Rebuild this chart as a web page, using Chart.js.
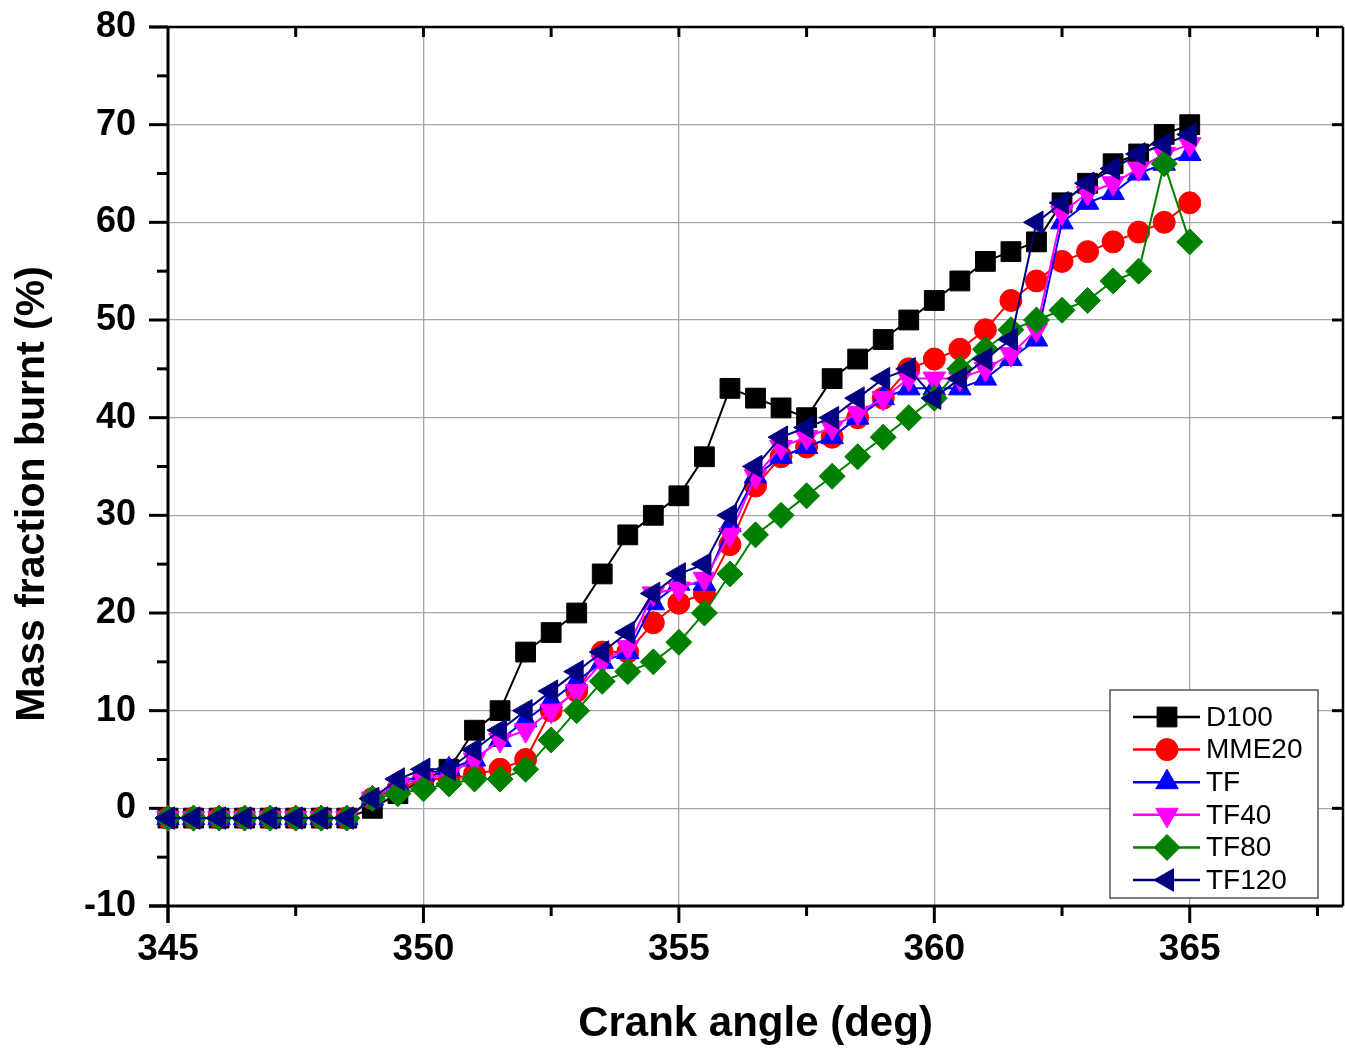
<!DOCTYPE html>
<html>
<head>
<meta charset="utf-8">
<title>Mass fraction burnt vs crank angle</title>
<script src="https://cdn.jsdelivr.net/npm/chart.js@4/dist/chart.umd.min.js"></script>
<style>
  html, body { margin: 0; padding: 0; background: #fff; }
  #wrap { width: 1345px; height: 1051px; }
</style>
</head>
<body>
<div id="wrap"><canvas id="mfb" width="1345" height="1051"></canvas></div>
<script>
// crank angle, deg (every 0.5 deg)
const crankAngle = [345, 345.5, 346, 346.5, 347, 347.5, 348, 348.5, 349, 349.5,
  350, 350.5, 351, 351.5, 352, 352.5, 353, 353.5, 354, 354.5,
  355, 355.5, 356, 356.5, 357, 357.5, 358, 358.5, 359, 359.5,
  360, 360.5, 361, 361.5, 362, 362.5, 363, 363.5, 364, 364.5, 365];

// mass fraction burnt, %
const d100 = [-1, -1, -1, -1, -1, -1, -1, -1, 0, 1.5,
  3, 4, 8, 10, 16, 18, 20, 24, 28, 30,
  32, 36, 43, 42, 41, 40, 44, 46, 48, 50,
  52, 54, 56, 57, 58, 62, 64, 66, 67, 69, 70];
const mme20 = [-1, -1, -1, -1, -1, -1, -1, -1, 1, 2,
  3, 3, 3.5, 4, 5, 10, 12, 16, 16, 19,
  21, 22, 27, 33, 36, 37, 38, 40, 42, 45,
  46, 47, 49, 52, 54, 56, 57, 58, 59, 60, 62];
const tf = [-1, -1, -1, -1, -1, -1, -1, -1, 1, 2.5,
  3.5, 4, 5, 7, 9, 11, 13, 15, 16, 21,
  23, 23, 29, 34, 36, 37, 38, 40, 42, 43,
  43, 43, 44, 46, 48, 60, 62, 63, 65, 66, 67];
const tf40 = [-1, -1, -1, -1, -1, -1, -1, -1, 1, 2.5,
  3, 3.5, 5, 7, 8, 10, 12, 15, 16.5, 22,
  22.5, 23.5, 28, 34, 37, 38, 39, 40.5, 42, 44,
  44, 44, 45, 46.5, 49, 61, 63, 64, 65.5, 67, 68];
const tf80 = [-1, -1, -1, -1, -1, -1, -1, -1, 1, 1.5,
  2, 2.5, 3, 3, 4, 7, 10, 13, 14, 15,
  17, 20, 24, 28, 30, 32, 34, 36, 38, 40,
  42, 45, 47, 49, 50, 51, 52, 54, 55, 66, 58];
const tf120 = [-1, -1, -1, -1, -1, -1, -1, -1, 1, 3,
  4, 4, 6, 8, 10, 12, 14, 16, 18, 22,
  24, 25, 30, 35, 38, 39, 40, 42, 44, 45,
  42, 44, 46, 48, 60, 62, 64, 65.5, 67, 68, 69];

const seriesNames = ['D100', 'MME20', 'TF', 'TF40', 'TF80', 'TF120'];
const seriesValues = [d100, mme20, tf, tf40, tf80, tf120];
const seriesColors = ['#000000', '#ff0000', '#0000ff', '#ff00ff', '#008000', '#000080'];
const seriesMarkers = [
  { style: 'rect', rotation: 0, radius: 14 },
  { style: 'circle', rotation: 0, radius: 11 },
  { style: 'triangle', rotation: 0, radius: 13 },
  { style: 'triangle', rotation: 180, radius: 13 },
  { style: 'rectRot', rotation: 0, radius: 13 },
  { style: 'triangle', rotation: 270, radius: 13 },
];

const xTicks = [345, 350, 355, 360, 365];
const yTicks = [-10, 0, 10, 20, 30, 40, 50, 60, 70, 80];

const FONT = '"Liberation Sans", Arial, Helvetica, sans-serif';

const datasets = seriesNames.map((name, i) => ({
  label: name,
  data: crankAngle.map((x, j) => ({ x, y: seriesValues[i][j] })),
  borderColor: seriesColors[i],
  backgroundColor: seriesColors[i],
  borderWidth: 2,
  pointStyle: seriesMarkers[i].style,
  rotation: seriesMarkers[i].rotation,
  pointRadius: seriesMarkers[i].radius,
  pointBorderWidth: 1,
  tension: 0,
  clip: false,
  order: seriesNames.length - i, // later series on top, as in Origin
}));

// frame, tick marks, axis titles and the boxed legend
const decorations = {
  id: 'decorations',
  beforeDatasetsDraw(chart) {
    const { ctx, chartArea: a, scales } = chart;
    const xs = scales.x, ys = scales.y;
    ctx.save();
    ctx.strokeStyle = '#000';
    ctx.lineCap = 'butt';

    // left / bottom: outward ticks; top / right: short inward ticks
    ctx.lineWidth = 3;
    for (let v = -10; v <= 80; v += 5) {
      const y = ys.getPixelForValue(v);
      const len = v % 10 === 0 ? 19 : 11;
      ctx.beginPath(); ctx.moveTo(a.left - len, y); ctx.lineTo(a.left, y); ctx.stroke();
      if (v % 10 === 0 && v > -10 && v < 80) {
        ctx.beginPath(); ctx.moveTo(a.right, y); ctx.lineTo(a.right - 11, y); ctx.stroke();
      }
    }
    for (let v = 345; v <= 367.5; v += 2.5) {
      const x = xs.getPixelForValue(v);
      const major = v % 5 === 0;
      ctx.beginPath(); ctx.moveTo(x, a.bottom); ctx.lineTo(x, a.bottom + (major ? 17 : 10)); ctx.stroke();
      if (v > 345) {
        ctx.beginPath(); ctx.moveTo(x, a.top); ctx.lineTo(x, a.top + 10); ctx.stroke();
      }
    }

    ctx.lineWidth = 3;
    ctx.beginPath();
    ctx.moveTo(a.left - 19, a.bottom); ctx.lineTo(a.right, a.bottom);
    ctx.moveTo(a.left, a.top - 1); ctx.lineTo(a.left, a.bottom + 17);
    ctx.stroke();
    ctx.lineWidth = 2.5;
    ctx.beginPath();
    ctx.moveTo(a.left - 19, a.top); ctx.lineTo(a.right, a.top);
    ctx.moveTo(a.right, a.top); ctx.lineTo(a.right, a.bottom);
    ctx.stroke();
    ctx.restore();
  },
  afterDraw(chart) {
    const { ctx, chartArea: a } = chart;
    ctx.save();

    // axis titles
    ctx.fillStyle = '#000';
    ctx.font = 'bold 42px ' + FONT;
    ctx.textAlign = 'center';
    ctx.textBaseline = 'middle';
    ctx.fillText('Crank angle (deg)', (a.left + a.right) / 2, 1024);
    ctx.translate(33, 494);
    ctx.rotate(-Math.PI / 2);
    ctx.font = 'bold 41px ' + FONT;
    ctx.fillText('Mass fraction burnt (%)', 0, 0);
    ctx.restore();

    // legend box
    ctx.save();
    const box = { left: 1110, top: 690, right: 1318, bottom: 898 };
    ctx.fillStyle = '#fff';
    ctx.fillRect(box.left, box.top, box.right - box.left, box.bottom - box.top);
    ctx.strokeStyle = '#555';
    ctx.lineWidth = 1.5;
    ctx.strokeRect(box.left, box.top, box.right - box.left, box.bottom - box.top);
    ctx.font = '28px ' + FONT;
    ctx.textAlign = 'left';
    ctx.textBaseline = 'middle';
    seriesNames.forEach((name, i) => {
      const y = 717 + i * 32.6;
      ctx.strokeStyle = seriesColors[i];
      ctx.fillStyle = seriesColors[i];
      ctx.lineWidth = 2.5;
      ctx.beginPath(); ctx.moveTo(1133, y); ctx.lineTo(1200, y); ctx.stroke();
      ctx.lineWidth = 1;
      Chart.helpers.drawPoint(ctx, {
        pointStyle: seriesMarkers[i].style,
        rotation: seriesMarkers[i].rotation,
        radius: seriesMarkers[i].radius,
        borderWidth: 1,
      }, 1167, y);
      ctx.fillStyle = '#000';
      ctx.fillText(name, 1206, y + 1);
    });
    ctx.restore();
  },
};

new Chart(document.getElementById('mfb'), {
  type: 'line',
  data: { datasets },
  options: {
    responsive: false,
    animation: false,
    devicePixelRatio: 1,
    layout: { autoPadding: false, padding: { top: 27, right: 2, left: 0, bottom: 0 } },
    plugins: { legend: { display: false }, tooltip: { enabled: false } },
    scales: {
      x: {
        type: 'linear',
        min: 345,
        max: 368,
        afterFit: (s) => { s.height = 145; s.paddingLeft = 0; s.paddingRight = 0; },
        afterBuildTicks: (s) => { s.ticks = xTicks.map((v) => ({ value: v })); },
        ticks: {
          padding: 22,
          color: '#000',
          font: { family: FONT, size: 37, weight: 'bold' },
        },
        grid: { color: '#a6a6a6', lineWidth: 1.3, drawTicks: false },
        border: { display: false },
      },
      y: {
        type: 'linear',
        min: -10,
        max: 80,
        afterFit: (s) => { s.width = 168; s.paddingTop = 0; s.paddingBottom = 0; },
        afterBuildTicks: (s) => { s.ticks = yTicks.map((v) => ({ value: v })); },
        ticks: {
          padding: 32,
          color: '#000',
          font: { family: FONT, size: 36, weight: 'bold' },
        },
        grid: { color: '#a6a6a6', lineWidth: 1.3, drawTicks: false },
        border: { display: false },
      },
    },
  },
  plugins: [decorations],
});
</script>
</body>
</html>
